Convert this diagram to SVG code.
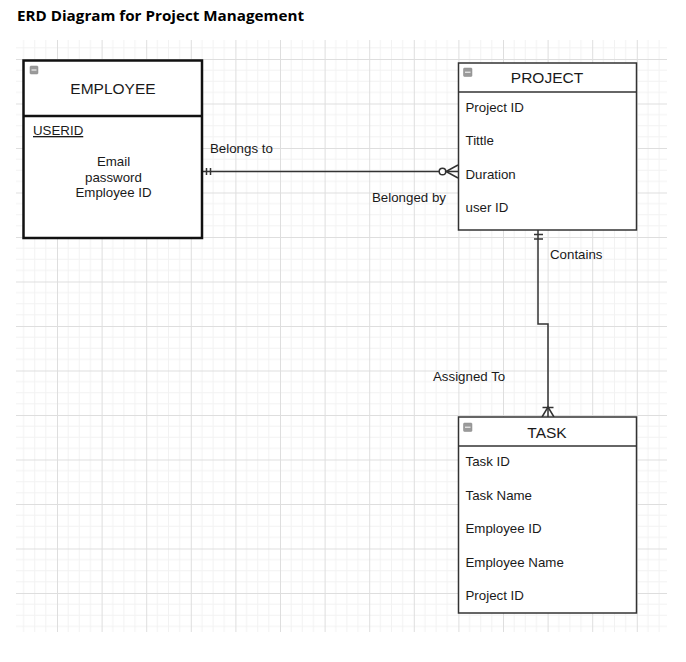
<svg xmlns="http://www.w3.org/2000/svg" width="686" height="662" viewBox="0 0 686 662">
<style>
.title{font-family:"Open Sans","Liberation Sans",sans-serif;font-weight:700;font-size:15px;fill:#000}
.t{font-family:"Liberation Sans",Arial,sans-serif;fill:#1a1a1a}
.hdr{font-size:15.5px}
.attr{font-size:13.3px}
.box{fill:#fff;stroke:#333;stroke-width:1.5}
.bold{fill:#fff;stroke:#111;stroke-width:2.5}
.icon{fill:#9a9a9a;stroke:#888;stroke-width:0.5}
.conn{fill:none;stroke:#333;stroke-width:1.5}
</style>
<defs>
<pattern id="grid" patternUnits="userSpaceOnUse" x="57" y="59" width="44.6" height="44.5">
<path d="M11.15 0V44.5M22.3 0V44.5M33.45 0V44.5M0 11.12H44.6M0 22.25H44.6M0 33.37H44.6" stroke="#f2f2f2" stroke-width="1"/>
<path d="M0.5 0V44.5M0 0.5H44.6" stroke="#dedede" stroke-width="1"/>
</pattern>
</defs>
<rect width="686" height="662" fill="#fff"/>
<rect x="16" y="40" width="651" height="592" fill="url(#grid)"/>
<text class="title" x="17" y="21" textLength="287" lengthAdjust="spacingAndGlyphs">ERD Diagram for Project Management</text>

<g id="connectors">
<g id="belongs">
<path class="conn" d="M202 171.5H458"/>
<path class="conn" d="M206.5 168V175M210.5 168V175"/>
<circle cx="442.5" cy="171.5" r="3.3" fill="#fff" stroke="#333" stroke-width="1.5"/>
<path class="conn" d="M458 165L446 171.5L458 178"/>
</g>
<g id="contains">
<path class="conn" d="M538 230V324H548V417"/>
<path class="conn" d="M534 234.5H543M534 239H543"/>
<path class="conn" d="M542.5 407.5H553.5"/>
<path class="conn" d="M542 417L548 407L554 417"/>
</g>
<text class="t attr" x="210" y="153">Belongs to</text>
<text class="t attr" x="372" y="202">Belonged by</text>
<text class="t attr" x="550" y="259">Contains</text>
<text class="t attr" x="433" y="381">Assigned To</text>
</g>

<g id="employee">
<rect class="bold" x="23.5" y="60.5" width="178.5" height="177.5"/>
<path d="M23.5 116H202" stroke="#111" stroke-width="2.5"/>
<rect class="icon" x="30" y="66" width="8" height="8" rx="1"/>
<path d="M31.5 70H36.5" stroke="#fff" stroke-width="1"/>
<text class="t hdr" x="113" y="94" text-anchor="middle">EMPLOYEE</text>
<text class="t attr" x="33" y="135" text-decoration="underline">USERID</text>
<text class="t attr" x="113.5" y="166" text-anchor="middle">Email</text>
<text class="t attr" x="113.5" y="182" text-anchor="middle">password</text>
<text class="t attr" x="113.5" y="197" text-anchor="middle">Employee ID</text>
</g>

<g id="project">
<rect class="box" x="458.5" y="63" width="178" height="167"/>
<path d="M458.5 92H636.5" stroke="#333" stroke-width="1.5"/>
<rect class="icon" x="463.5" y="68" width="8.5" height="8.5" rx="1"/>
<path d="M465 72.2H470.5" stroke="#fff" stroke-width="1"/>
<text class="t hdr" x="547" y="83" text-anchor="middle">PROJECT</text>
<text class="t attr" x="465.5" y="112">Project ID</text>
<text class="t attr" x="465.5" y="145">Tittle</text>
<text class="t attr" x="465.5" y="179">Duration</text>
<text class="t attr" x="465.5" y="212">user ID</text>
</g>

<g id="task">
<rect class="box" x="458.5" y="417" width="178" height="196"/>
<path d="M458.5 446H636.5" stroke="#333" stroke-width="1.5"/>
<rect class="icon" x="463.5" y="423" width="8.5" height="8.5" rx="1"/>
<path d="M465 427.2H470.5" stroke="#fff" stroke-width="1"/>
<text class="t hdr" x="547" y="438" text-anchor="middle">TASK</text>
<text class="t attr" x="465.5" y="466">Task ID</text>
<text class="t attr" x="465.5" y="500">Task Name</text>
<text class="t attr" x="465.5" y="533">Employee ID</text>
<text class="t attr" x="465.5" y="567">Employee Name</text>
<text class="t attr" x="465.5" y="600">Project ID</text>
</g>
</svg>
